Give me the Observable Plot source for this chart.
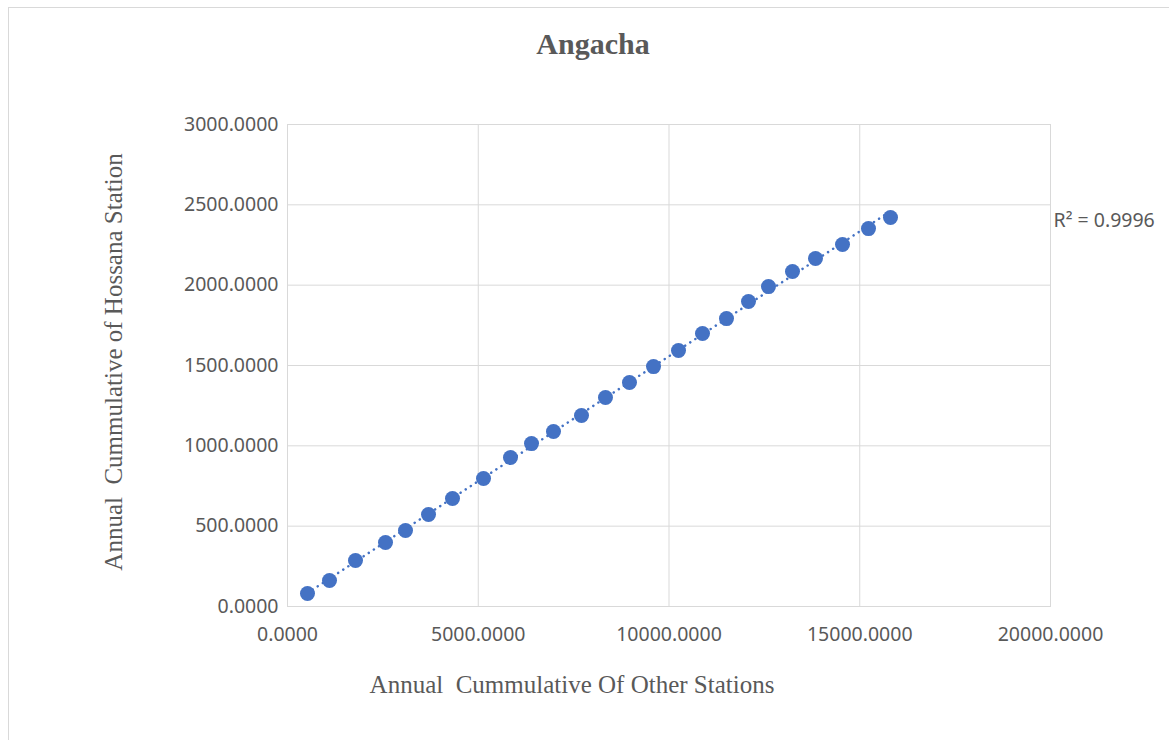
<!DOCTYPE html>
<html>
<head>
<meta charset="utf-8">
<script src="https://cdn.jsdelivr.net/npm/d3@7"></script>
<script src="https://cdn.jsdelivr.net/npm/@observablehq/plot@0.6"></script>
<style>
  html, body { margin: 0; padding: 0; background: #fff; }
  #wrap { position: relative; width: 1169px; height: 740px; overflow: hidden; }
  #border { position: absolute; left: 8px; top: 7px; width: 1200px; height: 760px; border: 1px solid #d9d9d9; }
  #title { position: absolute; left: 0; width: 1186px; top: 27px; text-align: center;
           font-family: "Liberation Serif", serif; font-weight: bold; font-size: 30px; color: #595959; }
  #xlabel { position: absolute; left: 0; width: 1144px; top: 671px; text-align: center;
            font-family: "Liberation Serif", serif; font-size: 25px; color: #595959; }
  #ylabel { position: absolute; left: 114px; top: 362px; transform: translate(-50%, -50%) rotate(-90deg);
            white-space: nowrap; font-family: "Liberation Serif", serif; font-size: 25px; color: #595959; }
  #chart { position: absolute; left: 0; top: 0; }
</style>
</head>
<body>
<div id="wrap">
  <div id="border"></div>
  <div id="chart"></div>
  <div id="title">Angacha</div>
  <div id="xlabel">Annual&nbsp; Cummulative Of Other Stations</div>
  <div id="ylabel">Annual&nbsp; Cummulative of Hossana Station</div>
</div>
<script>
// Cumulative totals
const otherStations = [524, 1101, 1782, 2569, 3093, 3696, 4325, 5138, 5845, 6396, 6972, 7706, 8335, 8964, 9594, 10249, 10878, 11507, 12084, 12608, 13237, 13840, 14548, 15229, 15806];
const hossana =       [81, 162, 286, 398, 473, 573, 672, 797, 927, 1014, 1089, 1189, 1301, 1394, 1493, 1593, 1699, 1792, 1898, 1991, 2085, 2166, 2253, 2352, 2421];
const xTicks = [0, 5000, 10000, 15000, 20000];
const yTicks = [0, 500, 1000, 1500, 2000, 2500, 3000];
const r2Label = "R\u00B2 = 0.9996";

const data = otherStations.map((x, i) => ({x, y: hossana[i]}));
const blue = "#4472C4";
const tickFont = {fontFamily: "'Noto Sans', sans-serif", fontSize: 19.5, fill: "#595959"};
const fmt = d3.format(".4f");

const chart = Plot.plot({
  width: 1169,
  height: 740,
  marginLeft: 287,
  marginRight: 119,
  marginTop: 124,
  marginBottom: 134,
  style: {background: "transparent", overflow: "visible"},
  x: {domain: [0, 20000]},
  y: {domain: [0, 3000]},
  marks: [
    Plot.gridX(xTicks, {stroke: "#d9d9d9", strokeOpacity: 1}),
    Plot.gridY(yTicks, {stroke: "#d9d9d9", strokeOpacity: 1}),
    Plot.frame({stroke: "#d9d9d9"}),
    Plot.axisX(xTicks, {tickSize: 0, tickPadding: 21, tickFormat: fmt, label: null, ...tickFont, style: "letter-spacing:0.8px"}),
    Plot.axisY(yTicks, {tickSize: 0, tickPadding: 9, tickFormat: fmt, label: null, ...tickFont, style: "letter-spacing:0.8px"}),
    Plot.linearRegressionY(data, {x: "x", y: "y", ci: 0, stroke: blue, strokeWidth: 2.5,
      strokeDasharray: "0.1 6", strokeLinecap: "round"}),
    Plot.dot(data, {x: "x", y: "y", r: 7.5, fill: blue, stroke: null}),
    Plot.text([r2Label], {frameAnchor: "top-right", textAnchor: "start", lineAnchor: "middle",
      dx: 3, dy: 96, ...tickFont, style: "letter-spacing:0.6px"})
  ]
});
document.getElementById("chart").appendChild(chart);
</script>
</body>
</html>
